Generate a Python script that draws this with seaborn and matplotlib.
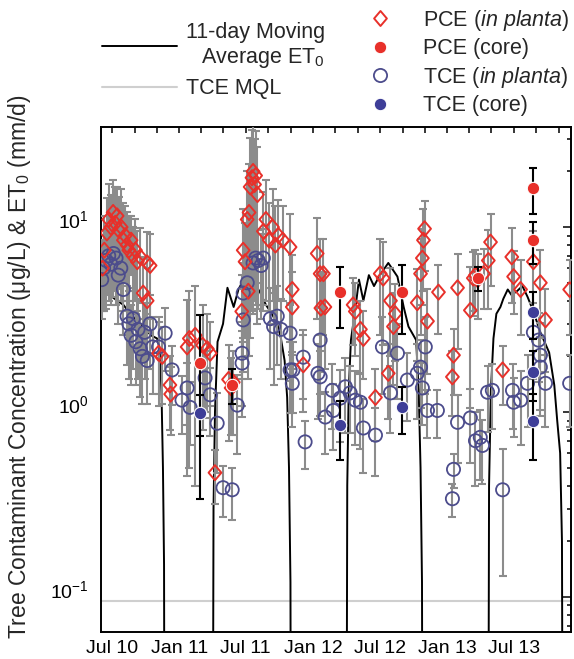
import matplotlib
matplotlib.use("Agg")
import numpy as np
import pandas as pd
import seaborn as sns
import matplotlib.pyplot as plt
import matplotlib.dates as mdates
import matplotlib.transforms as mtransforms
from matplotlib.lines import Line2D
from matplotlib.path import Path
from matplotlib.ticker import LogLocator, NullFormatter

# ---------------- data ----------------
et_dates = ["2010-06-01", "2010-06-15", "2010-07-01", "2010-07-15", "2010-08-01", "2010-08-15",
            "2010-09-01", "2010-09-15", "2010-10-01", "2010-10-15", "2010-11-01", "2010-11-08",
            "2010-11-13", "2010-11-17", "2010-11-20", "2010-11-22",
            "2011-04-01", "2011-04-04", "2011-04-08", "2011-04-15", "2011-04-30", "2011-05-12",
            "2011-05-29", "2011-06-11", "2011-06-25", "2011-07-10", "2011-07-25", "2011-08-10",
            "2011-08-25", "2011-09-10", "2011-09-25", "2011-10-05", "2011-10-15", "2011-10-22",
            "2011-10-27", "2011-10-31", "2011-11-02",
            "2012-03-31", "2012-04-03", "2012-04-07", "2012-04-13", "2012-04-25", "2012-05-05",
            "2012-05-17", "2012-06-01", "2012-06-15", "2012-07-01", "2012-07-24", "2012-08-18",
            "2012-09-04", "2012-09-17", "2012-10-08", "2012-10-15", "2012-10-20", "2012-10-24",
            "2012-10-26",
            "2013-04-22", "2013-04-25", "2013-04-30", "2013-05-07", "2013-05-15", "2013-05-26",
            "2013-06-03", "2013-06-15", "2013-06-25", "2013-07-10", "2013-07-25", "2013-08-08",
            "2013-08-24", "2013-09-12", "2013-10-06", "2013-10-20", "2013-10-28", "2013-11-05",
            "2013-11-10", "2013-11-13"]
et_vals = [4.3, 4.6, 4.2, 4.0, 3.8, 3.5,
           3.2, 3.0, 2.8, 2.6, 2.5, 2.2,
           1.3, 0.5, 0.15, 0.001,
           0.001, 0.3, 1.0, 2.4, 3.0, 4.7,
           3.7, 4.6, 5.2, 5.6, 5.0, 4.4,
           3.8, 3.4, 3.0, 2.5, 1.9, 1.2,
           0.5, 0.12, 0.001,
           0.001, 0.4, 1.3, 2.45, 3.6, 5.2,
           4.0, 5.5, 4.8, 5.5, 6.4, 5.4,
           3.7, 2.9, 2.45, 1.3, 0.5, 0.12,
           0.001,
           0.001, 0.4, 1.3, 2.5, 3.4, 3.7,
           4.1, 4.6, 4.3, 4.5, 4.8, 4.2,
           3.5, 2.7, 2.1, 1.4, 0.9, 0.6,
           0.2, 0.001]

mql_dates = ["2010-06-01", "2013-12-05"]
mql_vals = [0.095, 0.095]

pce_planta_dates = ["2010-06-05", "2010-06-10", "2010-06-17", "2010-06-22", "2010-06-28", "2010-07-04",
                    "2010-07-10", "2010-07-15", "2010-07-20", "2010-07-26", "2010-08-01", "2010-08-06",
                    "2010-08-11", "2010-08-16", "2010-08-22", "2010-08-27", "2010-09-03", "2010-09-08",
                    "2010-09-16", "2010-09-24", "2010-10-05", "2010-10-05", "2010-10-13",
                    "2010-11-05", "2010-11-15", "2010-12-06", "2010-12-08", "2011-01-22", "2011-01-28",
                    "2011-02-13", "2011-03-05", "2011-03-18", "2011-03-26", "2011-04-08",
                    "2011-05-15", "2011-05-22", "2011-05-28", "2011-06-20", "2011-06-24", "2011-06-29",
                    "2011-07-05", "2011-07-10", "2011-07-13", "2011-07-18", "2011-07-21", "2011-07-25",
                    "2011-07-28", "2011-08-02", "2011-07-08", "2011-08-18", "2011-08-25", "2011-09-03",
                    "2011-09-12", "2011-09-20", "2011-09-28", "2011-10-10", "2011-10-30", "2011-11-05",
                    "2011-11-05", "2011-12-05", "2012-01-12", "2012-01-20", "2012-01-22", "2012-01-29",
                    "2012-02-02",
                    "2012-04-19", "2012-04-25", "2012-05-09", "2012-05-17", "2012-06-19", "2012-07-02",
                    "2012-07-10", "2012-07-24", "2012-07-30", "2012-08-07", "2012-08-12", "2012-10-11",
                    "2012-10-20", "2012-10-25", "2012-10-28", "2012-10-31", "2012-11-08", "2012-12-08",
                    "2013-01-15", "2013-01-18", "2013-01-29", "2013-03-05", "2013-03-13", "2013-03-19",
                    "2013-03-25", "2013-04-10", "2013-04-23", "2013-04-29", "2013-06-01", "2013-06-26",
                    "2013-07-01", "2013-07-20", "2013-08-24", "2013-09-12", "2013-09-26", "2013-12-01"]
pce_planta_vals = [6.0, 7.5, 9.3, 11.0, 10.0, 12.0,
                   10.5, 11.5, 9.6, 10.0, 8.5, 9.0,
                   8.0, 7.5, 8.5, 7.0, 7.5, 6.5,
                   6.9, 4.4, 6.4, 4.0, 6.2,
                   2.08, 2.0, 1.4, 1.25, 2.25, 2.5,
                   2.6, 2.3, 2.2, 2.08, 0.47,
                   1.5, 1.35, 1.45, 3.5, 7.5, 6.5,
                   11.0, 12.0, 16.5, 18.5, 20.0, 17.0,
                   19.0, 15.0, 4.5, 9.5, 11.0, 8.5,
                   10.0, 8.0, 9.0, 8.5, 7.8, 4.6,
                   3.7, 1.8, 7.2, 5.6, 3.65, 5.6,
                   3.7,
                   3.8, 3.5, 2.8, 2.5, 1.2, 5.6,
                   5.3, 1.62, 4.0, 2.9, 3.4, 3.9,
                   5.6, 6.8, 8.5, 9.8, 3.1, 4.45,
                   1.55, 2.03, 4.7, 3.55, 5.3, 5.5,
                   5.2, 5.6, 6.6, 8.3, 1.69, 6.9,
                   5.4, 4.6, 6.5, 5.0, 3.15, 4.6]
pce_planta_err = [2.5, 4.0, 5.0, 6.0, 5.0, 6.0,
                  6.0, 5.0, 5.0, 6.0, 5.0, 4.0,
                  4.0, 4.0, 3.0, 3.0, 3.5, 3.0,
                  3.0, 2.5, 3.0, 2.0, 3.0,
                  1.0, 0.9, 0.6, 0.5, 1.8, 2.0,
                  2.2, 1.5, 1.2, 1.0, 0.15,
                  0.8, 0.6, 0.7, 2.0, 5.0, 4.0,
                  9.0, 10.0, 14.0, 15.0, 15.0, 13.0,
                  14.0, 12.0, 3.0, 6.0, 7.0, 5.0,
                  6.0, 5.0, 5.0, 4.5, 4.0, 2.5,
                  2.0, 0.8, 4.0, 3.0, 2.0, 3.0,
                  2.0,
                  1.5, 1.5, 1.2, 1.0, 0.5, 3.0,
                  3.0, 0.7, 2.0, 1.5, 1.5, 2.0,
                  3.0, 3.0, 4.0, 4.0, 1.5, 1.8,
                  0.6, 0.8, 2.5, 2.5, 2.0, 2.0,
                  2.0, 2.0, 3.0, 3.5, 0.6, 3.0,
                  2.0, 2.0, 3.0, 2.5, 1.5, 2.0]

pce_core_dates = ["2011-02-26", "2011-05-25", "2012-03-15", "2012-08-31", "2013-03-25",
                  "2013-08-24", "2013-08-24"]
pce_core_vals = [1.84, 1.4, 4.45, 4.45, 5.3, 16.3, 8.5]
pce_core_err = [1.5, 0.3, 1.6, 1.8, 0.8, 4.5, 2.2]

tce_planta_dates = ["2010-06-03", "2010-06-08", "2010-06-15", "2010-06-22", "2010-06-28", "2010-07-05",
                    "2010-07-12", "2010-07-18", "2010-07-25", "2010-08-01", "2010-08-11", "2010-08-16",
                    "2010-08-22", "2010-08-28", "2010-09-04", "2010-09-10", "2010-09-16", "2010-09-22",
                    "2010-09-28", "2010-10-05", "2010-10-13", "2010-10-20", "2010-11-05", "2010-11-23",
                    "2010-12-12", "2011-01-08", "2011-01-22", "2011-01-30", "2011-03-12", "2011-03-26",
                    "2011-04-14", "2011-04-30", "2011-05-25", "2011-06-08", "2011-06-21", "2011-06-21",
                    "2011-06-24", "2011-06-24", "2011-07-05", "2011-07-21", "2011-07-28", "2011-08-04",
                    "2011-08-12", "2011-08-18", "2011-09-06", "2011-09-15", "2011-09-25", "2011-10-05",
                    "2011-10-30", "2011-11-05", "2011-11-07", "2011-10-30", "2011-12-10", "2011-12-05",
                    "2012-01-20", "2012-01-20", "2012-01-14", "2012-02-03", "2012-02-22", "2012-02-25",
                    "2012-03-15", "2012-03-29", "2012-04-11", "2012-04-25", "2012-05-09", "2012-05-17",
                    "2012-06-19", "2012-07-08", "2012-07-30", "2012-08-18", "2012-09-14", "2012-10-11",
                    "2012-10-20", "2012-10-25", "2012-11-02", "2012-11-08", "2012-12-05", "2013-01-29",
                    "2013-01-18", "2013-01-15", "2013-03-05", "2013-03-19", "2013-04-01", "2013-04-07",
                    "2013-04-21", "2013-05-04", "2013-06-01", "2013-06-28", "2013-07-01", "2013-07-20",
                    "2013-08-08", "2013-08-24", "2013-09-07", "2013-09-12", "2013-09-12", "2013-09-26",
                    "2013-12-01"]
tce_planta_vals = [5.2, 6.0, 6.6, 7.0, 6.3, 7.2,
                   6.8, 5.5, 6.0, 4.6, 3.3, 3.0,
                   2.6, 3.2, 2.4, 2.8, 2.2, 2.0,
                   2.7, 1.9, 3.0, 2.25, 2.25, 2.67,
                   1.69, 1.16, 1.35, 1.06, 1.53, 1.24,
                   0.87, 0.39, 0.38, 1.09, 2.08, 1.84,
                   3.15, 4.4, 5.0, 6.4, 6.8, 6.6,
                   6.2, 6.8, 3.2, 2.9, 3.3, 2.8,
                   1.69, 1.43, 1.69, 2.67, 0.69, 1.98,
                   2.45, 1.55, 1.62, 0.94, 1.31, 1.02,
                   1.19, 1.37, 1.27, 1.16, 1.13, 0.82,
                   0.75, 2.25, 1.27, 2.08, 1.49, 1.62,
                   1.75, 1.35, 2.25, 1.02, 1.02, 0.88,
                   0.49, 0.34, 0.93, 0.70, 0.73, 0.66,
                   1.28, 1.31, 0.38, 1.31, 1.13, 1.16,
                   1.43, 2.7, 2.45, 2.03, 1.75, 1.43,
                   1.43]
tce_planta_err = [2.0, 2.5, 3.0, 3.0, 2.5, 3.0,
                  3.0, 2.5, 2.0, 2.0, 1.5, 1.5,
                  1.2, 1.5, 1.0, 1.3, 1.0, 0.9,
                  1.2, 0.8, 1.3, 1.0, 1.0, 1.0,
                  0.6, 0.4, 0.5, 0.4, 0.6, 0.5,
                  0.4, 0.12, 0.12, 0.5, 1.0, 0.9,
                  1.5, 2.0, 2.5, 3.0, 3.0, 3.0,
                  3.0, 3.0, 1.5, 1.5, 1.5, 1.3,
                  0.7, 0.6, 0.7, 1.2, 0.2, 0.8,
                  1.2, 0.6, 0.7, 0.35, 0.5, 0.4,
                  0.5, 0.6, 0.5, 0.5, 0.5, 0.35,
                  0.3, 1.0, 0.5, 0.9, 0.6, 0.7,
                  0.7, 0.5, 1.0, 0.3, 0.3, 0.35,
                  0.1, 0.07, 0.4, 0.3, 0.3, 0.25,
                  0.5, 0.5, 0.25, 0.5, 0.4, 0.5,
                  0.6, 1.2, 1.0, 1.0, 0.8, 0.6,
                  0.6]

tce_core_dates = ["2011-02-26", "2012-03-15", "2012-08-31",
                  "2013-08-24", "2013-08-24", "2013-08-24"]
tce_core_vals = [0.99, 0.85, 1.06, 3.47, 1.65, 0.9]
tce_core_err = [0.25, 0.3, 0.3, 1.0, 0.5, 0.35]

x_start, x_end = "2010-06-01", "2013-12-05"

# ---------------- style ----------------
sns.set_style("white")
plt.rcParams["font.family"] = ["Liberation Sans", "DejaVu Sans"]
plt.rcParams["mathtext.fontset"] = "custom"
plt.rcParams["mathtext.rm"] = "Liberation Sans"
plt.rcParams["mathtext.it"] = "Liberation Sans:italic"
plt.rcParams["mathtext.default"] = "regular"

RED = "#e8302a"
TCE_EDGE = "#4c4c8c"
TCE_FILL = "#3e3e98"
GRAY_ERR = "#8c8c8c"

diamond = Path([(0, 1), (0.85, 0), (0, -1), (-0.85, 0), (0, 1)],
               [Path.MOVETO, Path.LINETO, Path.LINETO, Path.LINETO, Path.CLOSEPOLY])

fig = plt.figure(figsize=(5.74, 6.59), dpi=100)
ax = fig.add_axes([0.176, 0.041, 0.819, 0.766])

def todt(lst):
    return pd.to_datetime(pd.Series(lst))

et = pd.DataFrame({"date": todt(et_dates), "val": et_vals})
mql = pd.DataFrame({"date": todt(mql_dates), "val": mql_vals})
pp = pd.DataFrame({"date": todt(pce_planta_dates), "val": pce_planta_vals, "err": pce_planta_err})
pc = pd.DataFrame({"date": todt(pce_core_dates), "val": pce_core_vals, "err": pce_core_err})
tp = pd.DataFrame({"date": todt(tce_planta_dates), "val": tce_planta_vals, "err": tce_planta_err})
tc = pd.DataFrame({"date": todt(tce_core_dates), "val": tce_core_vals, "err": tce_core_err})

ax.set_yscale("log")

sns.lineplot(data=mql, x="date", y="val", color="#cfcfcf", lw=1.5, ax=ax, zorder=1)
sns.lineplot(data=et, x="date", y="val", color="black", lw=1.4, ax=ax, zorder=2,
             estimator=None, sort=False)

eb_kw = dict(fmt="none", elinewidth=1.5, capsize=3.2, capthick=1.5)
ax.errorbar(tp["date"], tp["val"], yerr=tp["err"], ecolor=GRAY_ERR, zorder=3, **eb_kw)
ax.errorbar(pp["date"], pp["val"], yerr=pp["err"], ecolor=GRAY_ERR, zorder=3, **eb_kw)

sns.scatterplot(data=tp, x="date", y="val", marker="o", s=90, facecolor="none",
                edgecolor=TCE_EDGE, linewidth=1.3, ax=ax, zorder=4)
sns.scatterplot(data=pp, x="date", y="val", marker=diamond, s=118, facecolor="none",
                edgecolor=RED, linewidth=1.4, ax=ax, zorder=5)

ax.errorbar(pc["date"], pc["val"], yerr=pc["err"], ecolor="black", zorder=6, **eb_kw)
ax.errorbar(tc["date"], tc["val"], yerr=tc["err"], ecolor="black", zorder=6, **eb_kw)
sns.scatterplot(data=pc, x="date", y="val", marker="o", s=80, color=RED,
                edgecolor="white", linewidth=0.8, ax=ax, zorder=7)
sns.scatterplot(data=tc, x="date", y="val", marker="o", s=80, color=TCE_FILL,
                edgecolor="white", linewidth=0.8, ax=ax, zorder=7)

# ---------------- axes ----------------
ax.set_xlim(pd.Timestamp(x_start), pd.Timestamp(x_end))
ax.set_ylim(0.0647, 34.7)
ax.xaxis.set_major_locator(mdates.MonthLocator(bymonth=[1, 7]))
ax.xaxis.set_major_formatter(mdates.DateFormatter("%b %y"))
ax.xaxis.set_minor_locator(mdates.MonthLocator(bymonth=[3, 5, 9, 11]))
ax.yaxis.set_major_locator(LogLocator(base=10, numticks=10))
ax.yaxis.set_minor_locator(LogLocator(base=10, subs=np.arange(2, 10), numticks=20))
ax.yaxis.set_minor_formatter(NullFormatter())

ax.tick_params(axis="both", which="both", direction="in", top=True, right=True,
               colors="black", labelsize=14, width=1.1)
ax.tick_params(axis="x", which="major", length=4, pad=6)
ax.tick_params(axis="x", which="minor", length=4)
ax.tick_params(axis="y", which="major", length=6, pad=9)
ax.tick_params(axis="y", which="minor", length=3)
for sp in ax.spines.values():
    sp.set_color("black")
    sp.set_linewidth(1.4)

# y tick labels sit a little above their ticks in the reference
shift = mtransforms.ScaledTranslation(0, 0.08, fig.dpi_scale_trans)
for lab in ax.get_yticklabels():
    lab.set_transform(lab.get_transform() + shift)

ax.set_xlabel("")
ax.set_ylabel("Tree Contaminant Concentration (\u03bcg/L) & ET$_0$ (mm/d)", fontsize=16.5)
ax.yaxis.set_label_coords(-0.145, 0.525)

# ---------------- legends ----------------
h1 = [Line2D([], [], color="black", lw=1.4), Line2D([], [], color="#cfcfcf", lw=1.5)]
leg1 = fig.legend(h1, ["11-day Moving\nAverage ET$_0$", "TCE MQL"], loc="upper left",
                  bbox_to_anchor=(102 / 574, 1 - 22 / 659), frameon=False, fontsize=15.5,
                  handlelength=3.5, handletextpad=0.4, borderpad=0, borderaxespad=0,
                  labelspacing=0.4)
leg1.get_texts()[0].set_multialignment("right")
leg1.get_texts()[0].set_linespacing(1.15)

h2 = [Line2D([], [], ls="none", marker=diamond, ms=10.8, mfc="none", mec=RED, mew=1.4),
      Line2D([], [], ls="none", marker="o", ms=9, mfc=RED, mec="white", mew=0.8),
      Line2D([], [], ls="none", marker="o", ms=9.5, mfc="none", mec=TCE_EDGE, mew=1.3),
      Line2D([], [], ls="none", marker="o", ms=9, mfc=TCE_FILL, mec="white", mew=0.8)]
leg2 = fig.legend(h2, ["PCE ($\\it{in\\ planta}$)", "PCE (core)", "TCE ($\\it{in\\ planta}$)", "TCE (core)"],
                  loc="upper left", bbox_to_anchor=(369 / 574, 1 - 8 / 659), frameon=False,
                  fontsize=15.5, handlelength=1.0, handletextpad=1.5, borderpad=0,
                  borderaxespad=0, labelspacing=0.25)

fig.savefig("out.png", dpi=100)
